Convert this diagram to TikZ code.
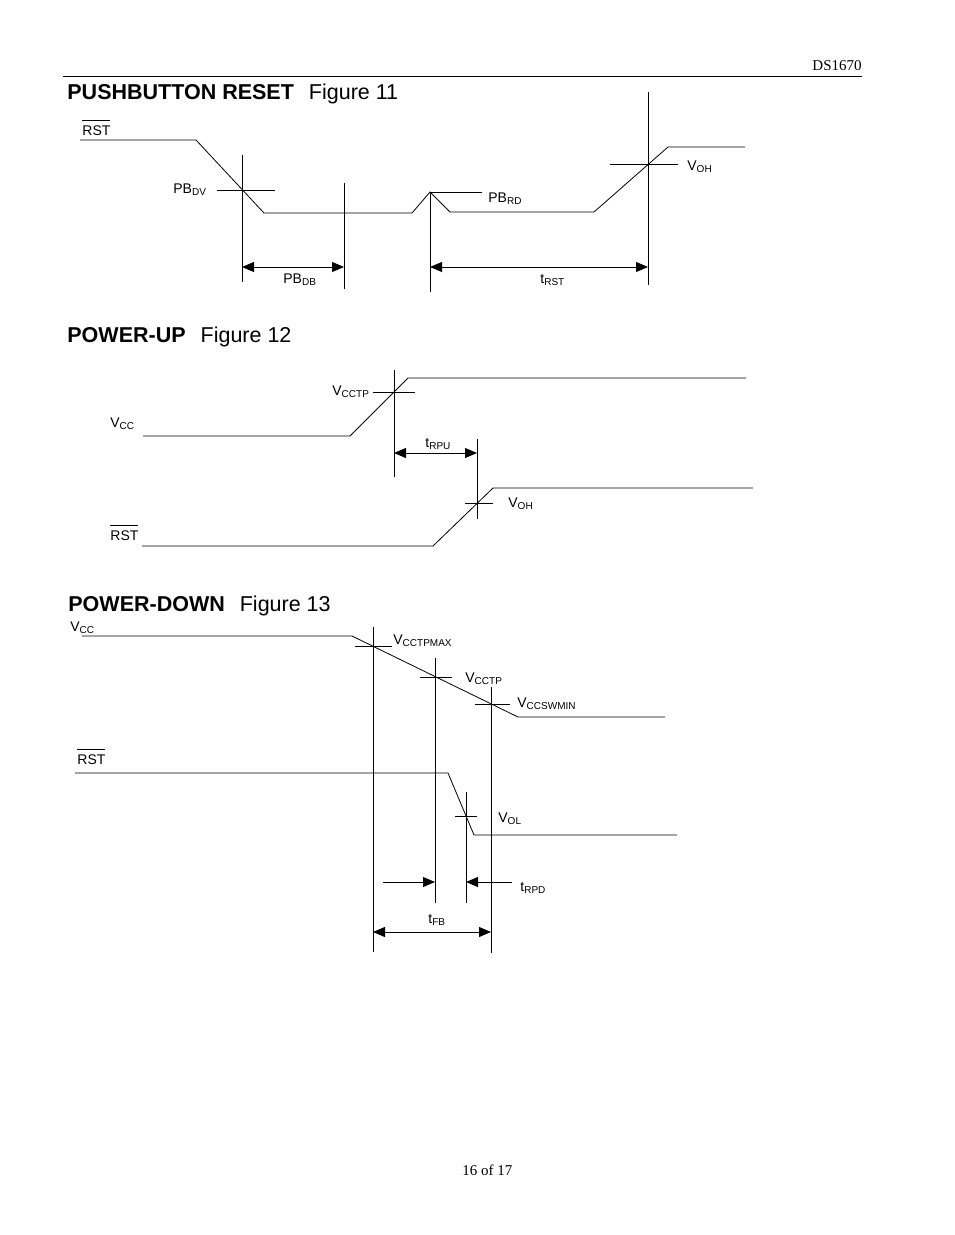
\documentclass[tikz,border=0pt]{standalone}
\usepackage{fontspec}
\setmainfont{Liberation Sans}
\newfontfamily\timesfont{Liberation Serif}
\usetikzlibrary{arrows.meta}

\newlength\barwd
\newcommand{\negsig}[1]{\settowidth\barwd{#1}\rlap{\rule[1.03em]{\barwd}{0.7pt}}#1}
\newcommand{\sig}[2]{#1\raisebox{-2.2pt}{\fontsize{10}{10}\selectfont #2}}

\begin{document}
\begin{tikzpicture}[x=1pt, y=-1pt, line width=0.8pt,
    >={Triangle[length=12pt,width=10pt]},
    lbl/.style={anchor=base west, inner sep=0pt, font=\fontsize{14}{14}\selectfont},
    ttl/.style={anchor=base west, inner sep=0pt, font=\fontsize{21.5}{21.5}\selectfont},
    pagetxt/.style={inner sep=0pt, font=\timesfont\fontsize{15}{15}\selectfont}]
\useasboundingbox (0,0) rectangle (954,1235);

% page header and footer
\node[pagetxt, anchor=base east] (dsno) at (862,70) {DS1670};
\coordinate (ruleL) at (63,76);
\coordinate (ruleR) at (862,76);
\draw (ruleL) -- (ruleR);
\node[pagetxt, anchor=base west] (pageno) at (462,1175) {16 of 17};

% Figure 11
\node[ttl] (ttl11) at (67,99) {\textbf{PUSHBUTTON RESET}\hspace{15pt}Figure 11};
\node[lbl] (rst11) at (82,135) {\negsig{RST}};
\draw (80,140) -- (196,140) -- (264,213) -- (412,213) -- (430,192)
      -- (450,212) -- (594,212) -- (668,147) -- (745,147);

\coordinate (dv) at (242,190);
\coordinate (db) at (344,267);
\coordinate (rd) at (430,192);
\coordinate (oh) at (648,164);

\draw (dv |- 0,155) -- (dv |- 0,282);
\draw ([xshift=-25pt]dv) -- ([xshift=33pt]dv);
\draw (db |- 0,183) -- (db |- 0,289);
\draw (rd) -- (rd |- 0,292);
\draw (rd) -- ([xshift=52pt]rd);
\draw (oh |- 0,92) -- (oh |- 0,285);
\draw ([xshift=-38pt]oh) -- ([xshift=30pt]oh);

\draw[<->] (dv |- db) -- (db);
\draw[<->] (rd |- db) -- (oh |- db);

\node[lbl] (pbdv) at (173,193) {\sig{PB}{DV}};
\node[lbl] (pbdb) at (283,283) {\sig{PB}{DB}};
\node[lbl] (pbrd) at (488,202) {\sig{PB}{RD}};
\node[lbl] (trst) at (540,283) {\sig{t}{RST}};
\node[lbl] (voh11) at (687,170) {\sig{V}{OH}};

% Figure 12
\node[ttl] (ttl12) at (67,342) {\textbf{POWER-UP}\hspace{15pt}Figure 12};
\node[lbl] (vcc12) at (110,427) {\sig{V}{CC}};
\node[lbl] (rst12) at (110,540) {\negsig{RST}};
\draw (143,436) -- (350,436) -- (408,378) -- (746,378);
\draw (142,546) -- (433,546) -- (493,488) -- (753,488);

\coordinate (cctp) at (394,392);
\coordinate (oh12) at (477,503);

\draw (cctp |- 0,370) -- (cctp |- 0,477);
\draw ([xshift=-21pt]cctp) -- ([xshift=21pt]cctp);
\draw (oh12 |- 0,439) -- (oh12 |- 0,519);
\draw ([xshift=-12pt]oh12) -- ([xshift=16pt]oh12);
\draw[<->] (cctp |- 0,453) -- (oh12 |- 0,453);

\node[lbl] (vcctp12) at (332,395) {\sig{V}{CCTP}};
\node[lbl] (trpu) at (425,447) {\sig{t}{RPU}};
\node[lbl] (voh12) at (508,507) {\sig{V}{OH}};

% Figure 13
\node[ttl] (ttl13) at (68,611) {\textbf{POWER-DOWN}\hspace{15pt}Figure 13};
\node[lbl] (vcc13) at (70,631) {\sig{V}{CC}};
\node[lbl] (rst13) at (77,764) {\negsig{RST}};
\draw (82,636) -- (352,636) -- (518,717) -- (665,717);
\draw (75,773) -- (448,773) -- (474,835) -- (677,835);

\coordinate (tpmax) at (373,646);
\coordinate (tp) at (435,677);
\coordinate (swmin) at (491,704);
\coordinate (ol) at (466,816);

\draw (tpmax |- 0,627) -- (tpmax |- 0,952);
\draw ([xshift=-18pt]tpmax) -- ([xshift=19pt]tpmax);
\draw (tp |- 0,658) -- (tp |- 0,903);
\draw ([xshift=-15pt]tp) -- ([xshift=17pt]tp);
\draw (swmin |- 0,687) -- (swmin |- 0,953);
\draw ([xshift=-16pt]swmin) -- ([xshift=19pt]swmin);
\draw (ol |- 0,792) -- (ol |- 0,903);
\draw ([xshift=-11pt]ol) -- ([xshift=11pt]ol);

\draw[->] (383,882) -- (tp |- 0,882);
\draw[->] (512,882) -- (ol |- 0,882);
\draw[<->] (tpmax |- 0,932) -- (swmin |- 0,932);

\node[lbl] (vctpmax) at (393,644) {\sig{V}{CCTPMAX}};
\node[lbl] (vcctp13) at (465,682) {\sig{V}{CCTP}};
\node[lbl] (vswmin) at (517,707) {\sig{V}{CCSWMIN}};
\node[lbl] (vol) at (498,822) {\sig{V}{OL}};
\node[lbl] (trpd) at (520,891) {\sig{t}{RPD}};
\node[lbl] (tfb) at (428,923) {\sig{t}{FB}};

\end{tikzpicture}
\end{document}
